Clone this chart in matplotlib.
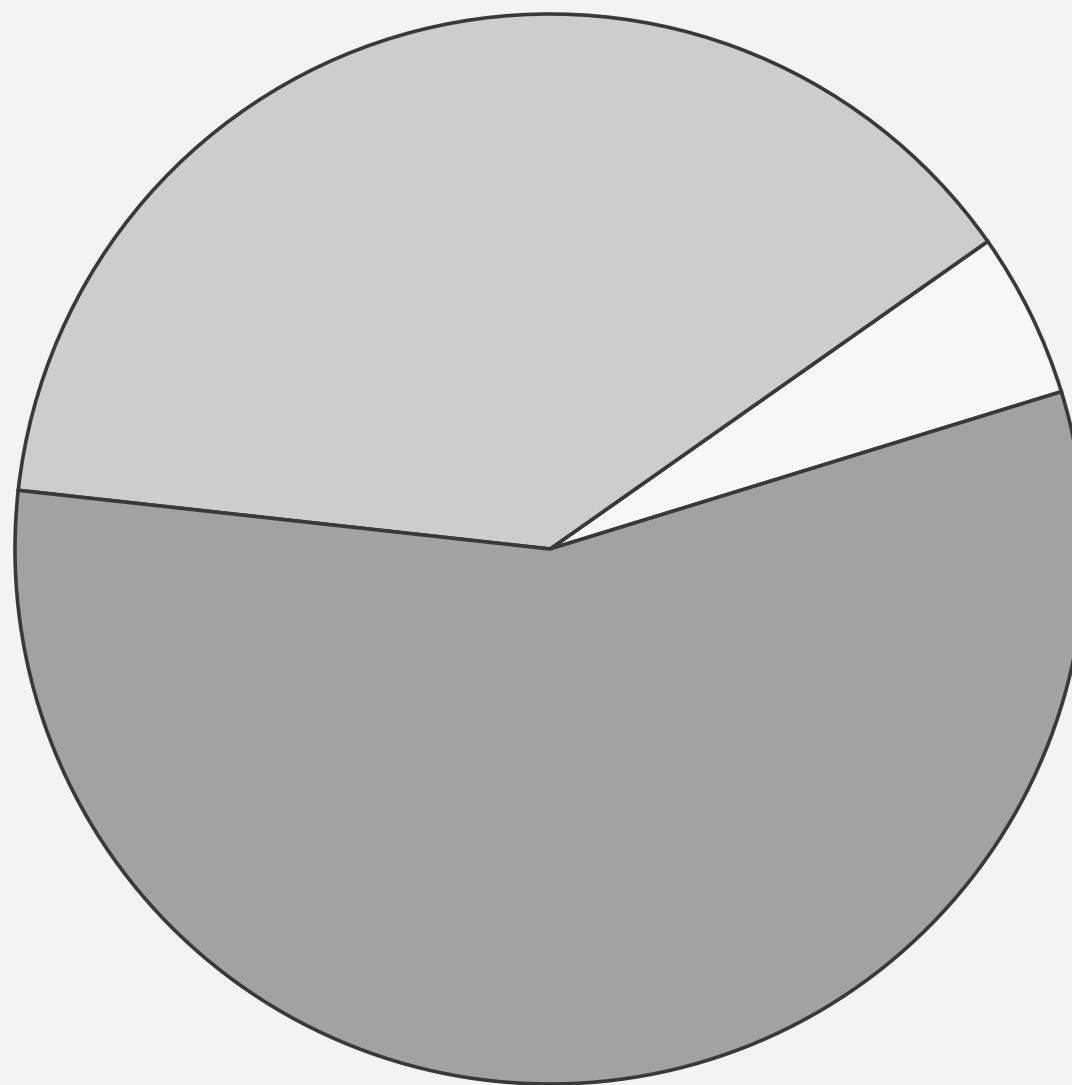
import matplotlib
matplotlib.use("Agg")
import matplotlib.pyplot as plt

# slices, counter-clockwise starting from the right-hand side
labels = ["branco", "cinza claro", "cinza escuro"]
shares = [5.0, 38.5, 56.5]
colors = ["#f7f7f5", "#cdcdcb", "#a3a2a2"]

W, H = 1072, 1085
fig = plt.figure(figsize=(W / 100, H / 100), dpi=100)
fig.patch.set_facecolor("#f3f3f1")
ax = fig.add_axes([0, 0, 1, 1])
ax.set_facecolor("#f3f3f1")

ax.pie(shares, colors=colors, startangle=17.1, counterclock=True,
       center=(550, H - 549), radius=535, frame=True,
       wedgeprops=dict(edgecolor="#3a3939", linewidth=2.6))

ax.set_xlim(0, W)
ax.set_ylim(0, H)
ax.set_aspect("equal")
ax.axis("off")

fig.savefig("out.png", dpi=100, facecolor=fig.get_facecolor())
